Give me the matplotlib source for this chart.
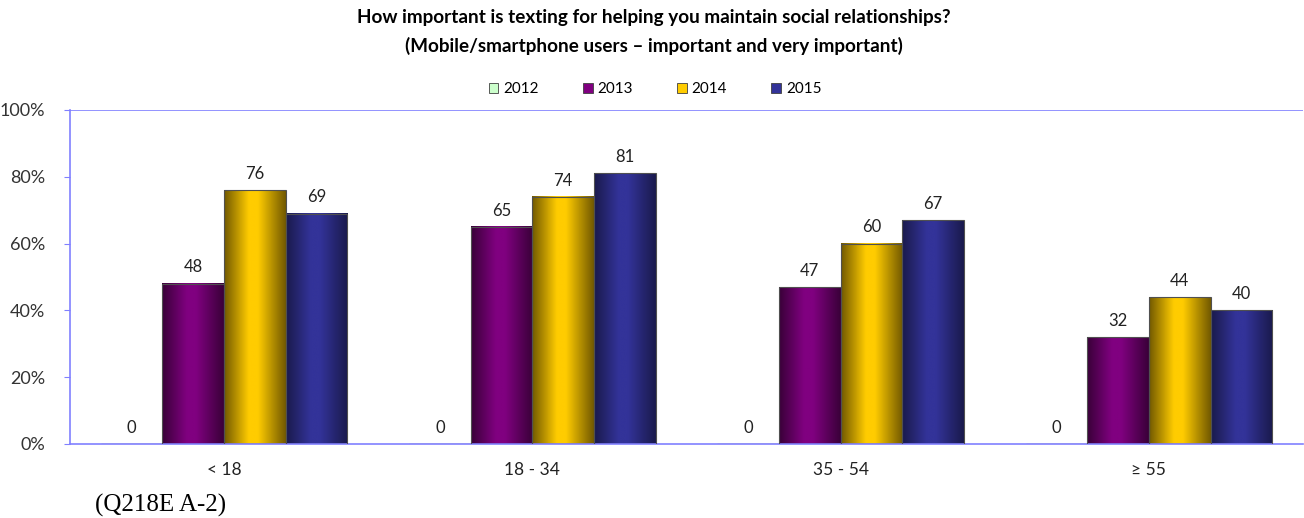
import numpy as np
import matplotlib.pyplot as plt
from matplotlib.colors import LinearSegmentedColormap

# data
groups = ["< 18", "18 - 34", "35 - 54", "\u2265 55"]
years = ["2012", "2013", "2014", "2015"]
v2012 = [0, 0, 0, 0]
v2013 = [48, 65, 47, 32]
v2014 = [76, 74, 60, 44]
v2015 = [69, 81, 67, 40]
values = [v2012, v2013, v2014, v2015]

# (dark edge, bright centre) per series
shades = [("#7fb07f", "#ccffcc"), ("#3a0039", "#800080"),
          ("#735a00", "#ffcc00"), ("#1a1a4d", "#333399")]

plt.rcParams['font.family'] = ['Lato', 'DejaVu Sans']

fig = plt.figure(figsize=(13.04, 5.18), dpi=100)
ax = fig.add_axes([70 / 1304, 74 / 518, 1 - 71 / 1304, 334 / 518])

x = np.arange(len(groups))
w = 0.2
grad = np.linspace(0, 1, 64).reshape(1, -1)

for i, (yr, vals) in enumerate(zip(years, values)):
    dark, light = shades[i]
    cmap = LinearSegmentedColormap.from_list(
        "g" + yr, [(0, dark), (0.4, light), (0.55, light), (1, dark)])
    pos = x + (i - 1.5) * w
    bars = ax.bar(pos, vals, w, facecolor="none", edgecolor="#505050",
                  linewidth=0.8, zorder=3, label=yr)
    for b, v in zip(bars, vals):
        if v > 0:
            ax.imshow(grad, extent=[b.get_x(), b.get_x() + b.get_width(), 0, v],
                      aspect="auto", cmap=cmap, zorder=2, interpolation="bilinear")
        ax.annotate(str(v), (b.get_x() + b.get_width() / 2, v),
                    xytext=(0, 6), textcoords="offset points",
                    ha="center", va="bottom", fontsize=12, color="#222222")

ax.set_xlim(-0.5, 3.5)
ax.set_ylim(0, 100)
ax.set_yticks([0, 20, 40, 60, 80, 100])
ax.set_yticklabels(["0%", "20%", "40%", "60%", "80%", "100%"])
ax.set_xticks(x)
ax.set_xticklabels(groups)
ax.tick_params(axis="y", colors="#8080ff", labelcolor="#333333",
               labelsize=13, length=4, direction="out", pad=14)
ax.tick_params(axis="x", length=0, labelsize=12.5, labelcolor="#222222", pad=13)
for s in ["top", "right"]:
    ax.spines[s].set_visible(False)
for s in ["left", "bottom"]:
    ax.spines[s].set_color("#8080ff")
    ax.spines[s].set_linewidth(1.2)
ax.axhline(100, color="#8080ff", linewidth=1.2, zorder=1)

handles = [plt.Rectangle((0, 0), 1, 1, facecolor=c[1], edgecolor="#404040",
                         linewidth=0.6) for c in shades]
fig.legend(handles, years, loc="center", bbox_to_anchor=(655 / 1304, 1 - 89 / 518),
           ncol=4, frameon=False, fontsize=11, handlelength=0.65, handleheight=0.65,
           handletextpad=0.3, columnspacing=2.9)

fig.text(654 / 1304, 1 - 18 / 518,
         "How important is texting for helping you maintain social relationships?",
         ha="center", va="center", fontsize=13.6, fontweight="bold")
fig.text(654 / 1304, 1 - 46 / 518,
         "(Mobile/smartphone users \u2013 important and very important)",
         ha="center", va="center", fontsize=13.6, fontweight="bold")
fig.text(95 / 1304, 1 - 505 / 518, "(Q218E A-2)", ha="left", va="center",
         fontsize=18, family="Liberation Serif")

fig.savefig("out.png", dpi=100)
